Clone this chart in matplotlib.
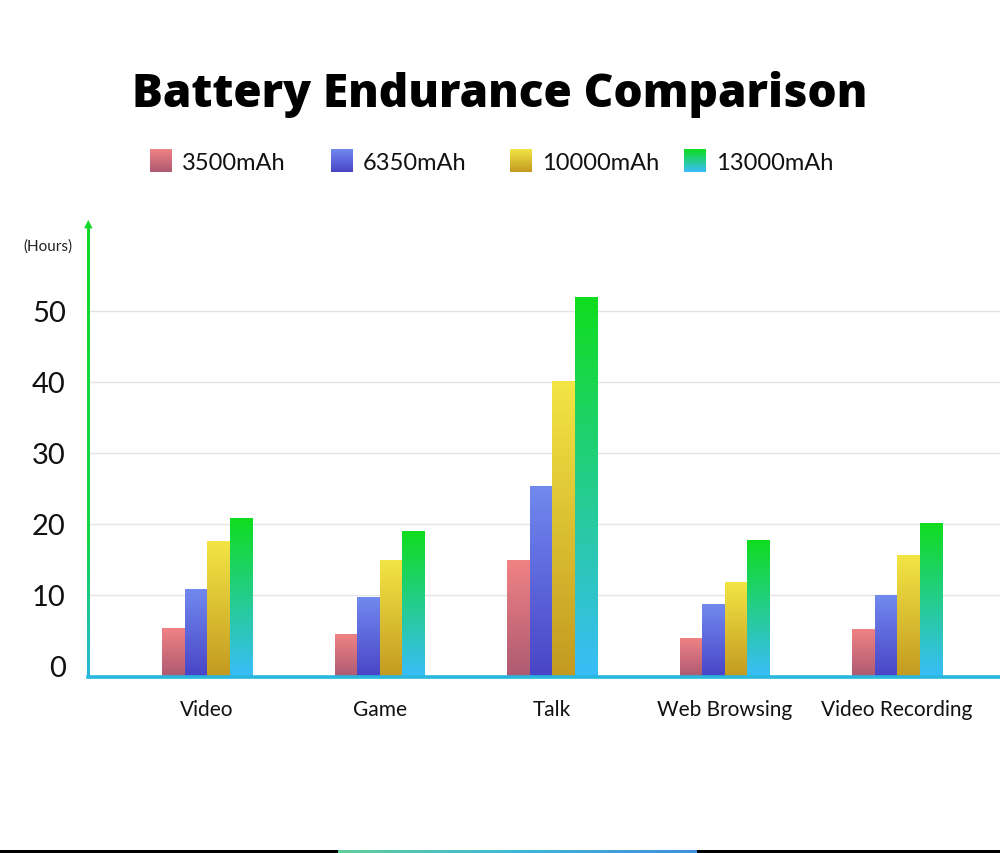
import numpy as np
import matplotlib.pyplot as plt
from matplotlib.colors import LinearSegmentedColormap

categories = ["Video", "Game", "Talk", "Web Browsing", "Video Recording"]
series = ["3500mAh", "6350mAh", "10000mAh", "13000mAh"]
hours_3500 = [5.3, 4.5, 14.9, 3.9, 5.1]
hours_6350 = [10.7, 9.6, 25.2, 8.7, 9.9]
hours_10000 = [17.5, 14.9, 40.0, 11.8, 15.6]
hours_13000 = [20.8, 19.0, 51.8, 17.6, 20.0]
yticks = [0, 10, 20, 30, 40, 50]

# (top colour, bottom colour) for each series gradient
grads = [("#f08284", "#ad5a72"),
         ("#7189ef", "#4944c6"),
         ("#f3e545", "#c39a20"),
         ("#10dd1e", "#39bdfa")]

plt.rcParams["font.family"] = ["Lato", "DejaVu Sans"]

W, H = 1000, 854
fig = plt.figure(figsize=(W / 100, H / 100), dpi=100)

y0, y1 = -1.55, 63.2
ax = fig.add_axes([0.088, 1 - 678 / H, 1 - 0.088, (678 - 218) / H])

grad = np.linspace(1, 0, 256).reshape(-1, 1)
cmaps = [LinearSegmentedColormap.from_list(f"g{i}", [b, t]) for i, (t, b) in enumerate(grads)]

values = [hours_3500, hours_6350, hours_10000, hours_13000]
bw = 0.1304
x = np.arange(len(categories))
for s, vals in enumerate(values):
    for i, v in enumerate(vals):
        left = x[i] + (s - 2) * bw
        ax.imshow(grad[::-1], cmap=cmaps[s], aspect="auto", origin="lower",
                  extent=[left, left + bw, y0, v], zorder=3, interpolation="bicubic")

for t in yticks[1:]:
    ax.axhline(t, color="#e4e4e4", lw=1, zorder=1)

ax.set_xlim(-0.69, 4.597)
ax.set_ylim(y0, y1)
for sp in ax.spines.values():
    sp.set_visible(False)
ax.axhline(y0, color="#28b6dd", lw=2.6, zorder=5, clip_on=False)

ax.set_yticks(yticks)
ax.set_yticklabels([str(t) for t in yticks], fontsize=21, color="#111111")
ax.set_xticks(x)
ax.set_xticklabels(categories, fontsize=15, color="#111111")
ax.tick_params(axis="both", length=0)
ax.tick_params(axis="y", pad=16)
ax.tick_params(axis="x", pad=16)

# y axis: thin gradient strip, green at the top fading to cyan at the bottom
yax = fig.add_axes([87 / W, 1 - 677 / H, 2.5 / W, (677 - 224) / H])
ycmap = LinearSegmentedColormap.from_list(
    "yax", [(0, "#28b6dd"), (0.3, "#16d44a"), (1, "#12d82a")])
yax.imshow(np.linspace(1, 0, 256).reshape(-1, 1), cmap=ycmap, aspect="auto")
yax.axis("off")
fig.text(88.2 / W, 1 - 224 / H, "\u25B2", fontsize=8, color="#12d82a",
         ha="center", va="center", family="DejaVu Sans")

fig.text(48 / W, 1 - 247 / H, "(Hours)", fontsize=11,
         ha="center", va="center", color="#222222")

fig.text(0.5, 1 - 94 / H, "Battery Endurance Comparison", fontsize=33,
         fontweight="heavy", ha="center", va="center", color="black",
         family=["Open Sans", "DejaVu Sans"])

# legend with gradient swatches
lx = [150, 331, 510, 684]
for s, name in enumerate(series):
    sq = fig.add_axes([lx[s] / W, 1 - 173 / H, 22 / W, 23 / H])
    sq.imshow(grad, cmap=cmaps[s], aspect="auto")
    sq.axis("off")
    fig.text((lx[s] + 32) / W, 1 - 163 / H, name, fontsize=17,
             ha="left", va="center", color="#111111")

# dark strip cropped at the very bottom of the source image
strip = fig.add_axes([0, 0, 1, 3 / H])
strip.axhspan(0, 1, color="black", zorder=0)
strip.imshow(np.linspace(0, 1, 256).reshape(1, -1),
             cmap=LinearSegmentedColormap.from_list("st", ["#5fcf9a", "#3cb8d8", "#3f8fe0"]),
             aspect="auto", extent=[0.338, 0.697, 0, 1], zorder=2)
strip.set_xlim(0, 1)
strip.set_ylim(0, 1)
strip.axis("off")

fig.savefig("out.png", dpi=100)
